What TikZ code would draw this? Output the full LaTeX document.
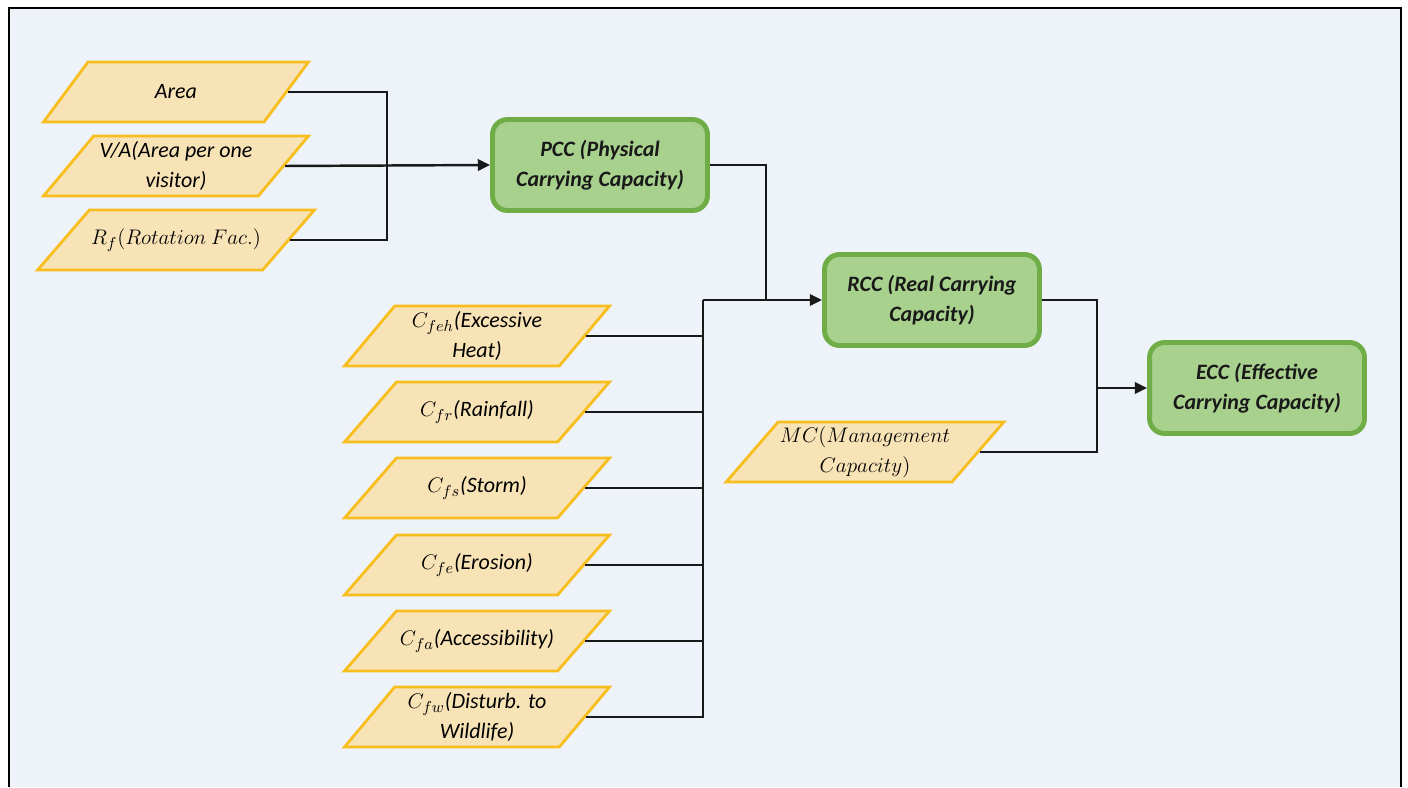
\documentclass[tikz,border=0pt]{standalone}
\usepackage{fontspec}
\setmainfont{Carlito}
\usepackage{tikz}
\usetikzlibrary{arrows.meta, positioning, calc, shapes.geometric}
\definecolor{bgblue}{HTML}{EEF3FA}
\definecolor{factfill}{HTML}{F8E3B6}
\definecolor{factline}{HTML}{F7BE1E}
\definecolor{capfill}{HTML}{A9D18E}
\definecolor{capline}{HTML}{70AD47}
\tikzstyle{factor}=[trapezium, trapezium left angle=49, trapezium right angle=131, trapezium stretches body, minimum width=5.3cm, minimum height=1.2cm, inner xsep=1pt, inner ysep=10.5pt, draw=factline, fill=factfill, line width=1.6pt, align=center, font=\fontsize{12.5}{17}\selectfont\itshape]
\tikzstyle{twoline}=[inner ysep=2.5pt]
\tikzstyle{capacity}=[rectangle, rounded corners=0.3cm, minimum width=4.3cm, minimum height=1.82cm, draw=capline, fill=capfill, line width=2.8pt, align=center, font=\fontsize{12.5}{17}\selectfont\bfseries\itshape, text=black!90]
\tikzstyle{wire}=[line width=1.4pt, black!90]

\begin{document}
\begin{tikzpicture}[x=0.02cm, y=-0.02cm, >={Triangle[length=7pt,width=6.5pt]}]
	\useasboundingbox (0,0) rectangle (1408,787);
	\fill[white] (0,0) rectangle (1408,787);
	\fill[bgblue] (9,8) rectangle (1401,787);
	\draw[line width=1.2pt] (9,787) -- (9,8) -- (1401,8) -- (1401,787);

	% inputs of PCC
	\node[factor] (area) at (176,92) {Area};
	\node[factor, twoline] (va) at (176,166) {V/A(Area per one\\visitor)};
	\node[factor] (rf) at (176,240) {$R_f(Rotation\ Fac.)$};

	% carrying capacities
	\node[capacity] (pcc) at (600,165) {PCC (Physical\\Carrying Capacity)};
	\node[capacity] (rcc) at (932,300) {RCC (Real Carrying\\Capacity)};
	\node[capacity] (ecc) at (1257,388) {ECC (Effective\\Carrying Capacity)};

	% correction factors
	\node[factor, twoline] (cfeh) at (477,336) {$C_{feh}$(Excessive\\Heat)};
	\node[factor] (cfr) at (477,412) {$C_{fr}$(Rainfall)};
	\node[factor] (cfs) at (477,488) {$C_{fs}$(Storm)};
	\node[factor] (cfe) at (477,565) {$C_{fe}$(Erosion)};
	\node[factor] (cfa) at (477,641) {$C_{fa}$(Accessibility)};
	\node[factor, twoline] (cfw) at (477,717) {$C_{fw}$(Disturb. to\\Wildlife)};

	\node[factor, twoline] (mc) at (865,452) {$MC(Management$\\$Capacity)$};

	% junctions
	\coordinate (jin) at (387,166);
	\coordinate (jpcc) at (766,300);
	\coordinate (bus) at (703,300);
	\coordinate (jrcc) at (1097,388);

	\draw[wire] (area.east) -| (jin) |- (rf.east);
	\draw[wire, ->] (va.east) -- (pcc.west);
	\draw[wire] (pcc.east) -| (jpcc);
	\draw[wire, ->] (bus) -- (rcc.west);
	\foreach \f in {cfeh, cfr, cfs, cfe, cfa, cfw}
		\draw[wire] (\f.east) -| (bus);
	\draw[wire] (rcc.east) -| (jrcc);
	\draw[wire] (mc.east) -| (jrcc);
	\draw[wire, ->] (jrcc) -- (ecc.west);

\end{tikzpicture}
\end{document}
